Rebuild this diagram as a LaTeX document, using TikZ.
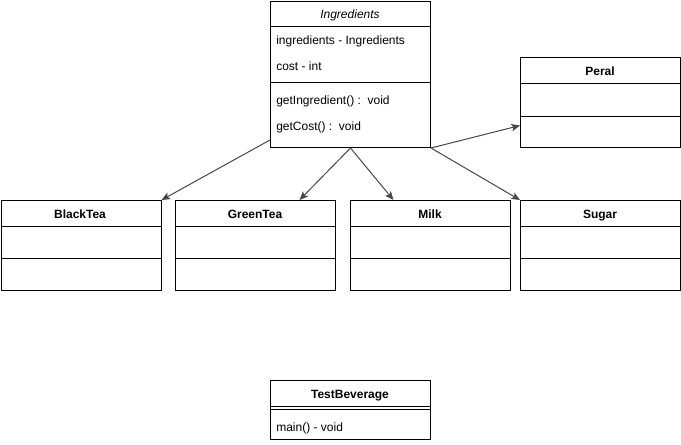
\documentclass[tikz,border=0pt]{standalone}
\usepackage{fontspec}
\setmainfont{Liberation Sans}
\usetikzlibrary{arrows.meta,calc}
\begin{document}
\begin{tikzpicture}[x=0.75pt,y=-0.75pt,
  font=\fontsize{9pt}{11pt}\selectfont,
  cls/.style={draw=black,line width=0.75pt,fill=white,rectangle,inner sep=0pt,
              minimum width=120pt,anchor=north west},
  sep/.style={line width=0.75pt},
  attr/.style={anchor=base west,inner sep=0pt},
  title/.style={anchor=base,inner sep=0pt,font=\fontsize{9pt}{11pt}\selectfont\bfseries},
  rel/.style={draw=black!72,line width=0.75pt,
              -{Stealth[length=6.5pt,width=5.5pt,inset=1.5pt]}}]
\useasboundingbox (0,0) rectangle (681,444);

% class boxes
\node[cls,minimum height=109.5pt] (ing) at (270,1) {};
\node[cls,minimum height=67.5pt] (peral) at (520,57) {};
\node[cls,minimum height=67.5pt] (black) at (0.5,200) {};
\node[cls,minimum height=67.5pt] (green) at (175,200) {};
\node[cls,minimum height=67.5pt] (milk) at (350,200) {};
\node[cls,minimum height=67.5pt] (sugar) at (520,200) {};
\node[cls,minimum height=44.25pt] (test) at (270,380) {};

% compartment separators
\draw[sep] (ing.west |- 0,26) -- (ing.east |- 0,26);
\draw[sep] (ing.west |- 0,82) -- (ing.east |- 0,82);
\draw[sep] (peral.west |- 0,83) -- (peral.east |- 0,83);
\draw[sep] (peral.west |- 0,116) -- (peral.east |- 0,116);
\foreach \b in {black,green,milk,sugar}{
  \draw[sep] (\b.west |- 0,226) -- (\b.east |- 0,226);
  \draw[sep] (\b.west |- 0,258) -- (\b.east |- 0,258);
}
\draw[sep] (test.west |- 0,406.5) -- (test.east |- 0,406.5);
\draw[sep] (test.west |- 0,409.5) -- (test.east |- 0,409.5);

% Ingredients contents
\node[anchor=base,inner sep=0pt,font=\fontsize{9pt}{11pt}\selectfont\itshape] (ingname) at (350,18) {Ingredients};
\node[attr] (a1) at (276,44.5) {ingredients - Ingredients};
\node[attr] (a2) at (276,70) {cost - int};
\node[attr] (m1) at (276,104) {getIngredient() :\ \ void};
\node[attr] (m2) at (276,130) {getCost() :\ \ void};

% other class names
\node[title] (peralname) at (600,75.5) {Peral};
\node[title] (blackname) at (80,218) {BlackTea};
\node[title] (greenname) at (255,218) {GreenTea};
\node[title] (milkname) at (430,218) {Milk};
\node[title] (sugarname) at (600,218) {Sugar};
\node[title] (testname) at (350,398) {TestBeverage};
\node[attr] (tm1) at (276,431.5) {main() - void};

% relations
\draw[rel] ($(ing.south west)+(0,-8)$) -- (black.north east);
\draw[rel] (ing.south) -- ($(green.north)+(44,0)$);
\draw[rel] (ing.south) -- ($(milk.north)+(-37,0)$);
\draw[rel] (ing.south east) -- (sugar.north west);
\draw[rel] (ing.south east) -- ($(peral.west)+(0,23)$);
\end{tikzpicture}
\end{document}
